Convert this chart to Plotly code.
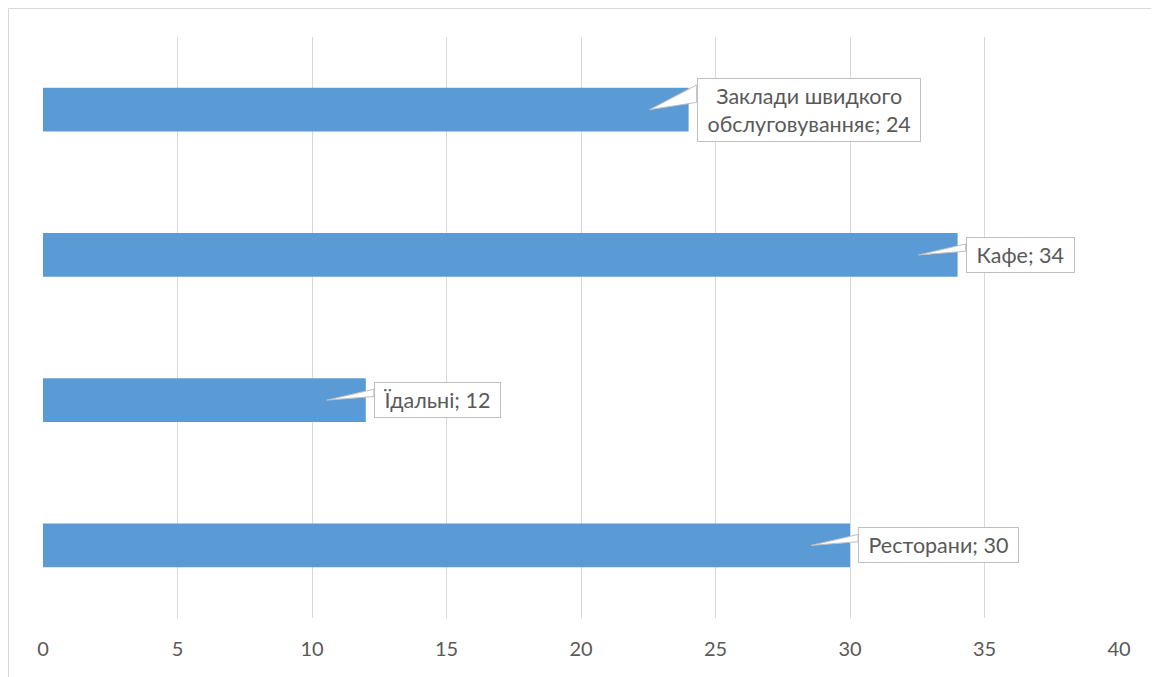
import plotly.graph_objects as go

categories = ["Ресторани", "Їдальні", "Кафе", "Заклади швидкого обслуговуванняє"]
values = [30, 12, 34, 24]
label_lines = [["Ресторани"], ["Їдальні"], ["Кафе"], ["Заклади швидкого", "обслуговуванняє"]]
x_ticks = [0, 5, 10, 15, 20, 25, 30, 35, 40]

BAR = "#5b9bd5"
GRID = "#d9d9d9"
FONT = "Lato"
NB = "\u00a0"

fig = go.Figure()
fig.add_trace(go.Bar(
    y=categories, x=values, orientation="h",
    marker=dict(color=BAR, line=dict(width=0)),
    hoverinfo="skip",
))

shapes = []
annotations = []
for i, (cat, v, lines) in enumerate(zip(categories, values, label_lines)):
    tip_x = v - 1.45
    base_x = v + 0.3
    if len(lines) > 1:
        b0, b1 = 0.05, 0.17
    else:
        b0, b1 = 0.025, 0.075
    shapes.append(dict(
        type="path", xref="x", yref="y", layer="above",
        path=f"M {base_x},{i + b1} L {tip_x},{i} L {base_x},{i + b0} Z",
        fillcolor="white", line=dict(color="#bfbfbf", width=1),
    ))
    txt_lines = list(lines)
    txt_lines[-1] = f"{txt_lines[-1]}; {v}"
    text = "<br>".join(NB + ln + NB for ln in txt_lines)
    annotations.append(dict(
        x=base_x, y=i, xref="x", yref="y",
        text=text, showarrow=False,
        xanchor="left", yanchor="middle", align="center",
        font=dict(family=FONT, size=21.5, color="#595959"),
        bgcolor="white", bordercolor="#bfbfbf", borderwidth=1, borderpad=4,
    ))

# outer chart frame
shapes.append(dict(
    type="rect", xref="paper", yref="paper",
    x0=(0.5 - 35) / 1076, x1=1.2, y0=-0.3, y1=1 + (29 - 0.5) / 581,
    line=dict(color=GRID, width=1), fillcolor="rgba(0,0,0,0)", layer="below",
))

fig.update_layout(
    width=1159, height=677,
    margin=dict(l=35, r=48, t=29, b=67),
    paper_bgcolor="white", plot_bgcolor="white",
    bargap=0.7, showlegend=False,
    shapes=shapes, annotations=annotations,
    font=dict(family=FONT),
)
fig.update_xaxes(
    range=[0, 40], tickvals=x_ticks, ticktext=[str(t) for t in x_ticks],
    showgrid=True, gridcolor=GRID, gridwidth=1, zeroline=False,
    showline=False, ticks="", ticklabelstandoff=17,
    tickfont=dict(family=FONT, size=20, color="#595959"),
)
fig.update_yaxes(
    categoryorder="array", categoryarray=categories, range=[-0.5, 3.5],
    showticklabels=False, showgrid=False, zeroline=False, showline=False, ticks="",
)

fig.write_html("out.html")
